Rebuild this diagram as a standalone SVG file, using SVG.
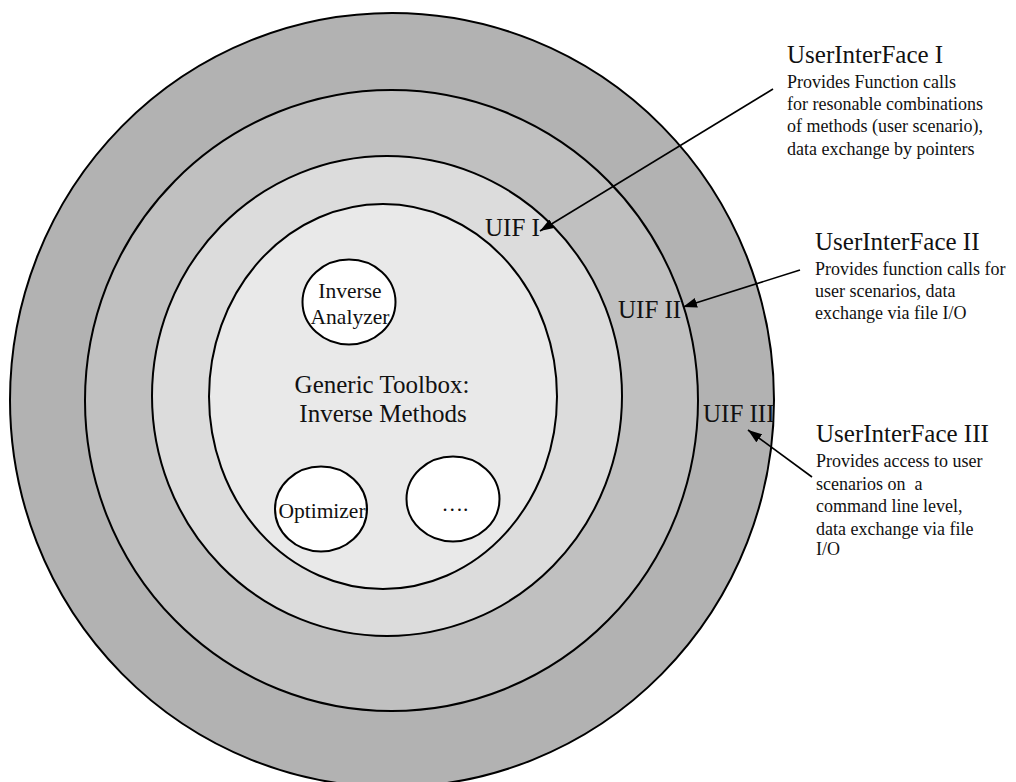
<svg xmlns="http://www.w3.org/2000/svg" width="1016" height="782" viewBox="0 0 1016 782">
<style>
  .ring { stroke: #000; stroke-width: 2; }
  .node { fill: #fff; stroke: #000; stroke-width: 2; }
  text { font-family: "Liberation Serif", "Times New Roman", serif; fill: #111; }
  .big { font-size: 25px; }
  .small { font-size: 21.5px; }
  .desc { font-size: 18px; }
  .mid { text-anchor: middle; }
  .arrow { stroke: #000; stroke-width: 1.6; fill: none; marker-end: url(#ah); }
</style>
<defs>
  <marker id="ah" viewBox="0 0 14 10" refX="14" refY="5" markerWidth="14" markerHeight="10" orient="auto" markerUnits="userSpaceOnUse">
    <path d="M0,0 L14,5 L0,10 z" fill="#000"/>
  </marker>
</defs>
<rect width="1016" height="782" fill="#fff"/>
<g id="layer-uif3">
  <ellipse class="ring" cx="392" cy="400" rx="382" ry="387" fill="#b2b2b2"/>
</g>
<g id="layer-uif2">
  <ellipse class="ring" cx="391.5" cy="400.5" rx="306.5" ry="310.5" fill="#c0c0c0"/>
</g>
<g id="layer-uif1">
  <ellipse class="ring" cx="387" cy="396" rx="235" ry="240" fill="#dcdcdc"/>
</g>
<g id="toolbox">
  <ellipse class="ring" cx="383" cy="396.5" rx="174" ry="192.5" fill="#e9e9e9"/>
  <text class="big mid" x="382" y="393">Generic Toolbox:</text>
  <text class="big mid" x="383" y="422">Inverse Methods</text>
</g>
<g id="inverse-analyzer">
  <ellipse class="node" cx="349" cy="302" rx="46.5" ry="42.5"/>
  <text class="small mid" x="350" y="298">Inverse</text>
  <text class="small mid" x="350" y="323.5">Analyzer</text>
</g>
<g id="optimizer">
  <ellipse class="node" cx="321" cy="509" rx="46" ry="42.5"/>
  <text class="small mid" x="322" y="518">Optimizer</text>
</g>
<g id="more">
  <ellipse class="node" cx="453" cy="499" rx="46.5" ry="42.5"/>
  <text class="small mid" x="455" y="511">….</text>
</g>
<g id="uif-labels">
  <text class="big" x="485" y="236">UIF I</text>
  <text class="big" x="618" y="318">UIF II</text>
  <text class="big" x="703" y="422">UIF III</text>
</g>
<g id="desc-uif1">
  <text class="big" x="787" y="63">UserInterFace I</text>
  <text class="desc" x="787" y="88">Provides Function calls</text>
  <text class="desc" x="787" y="110">for resonable combinations</text>
  <text class="desc" x="787" y="132">of methods (user scenario),</text>
  <text class="desc" x="787" y="155">data exchange by pointers</text>
</g>
<g id="desc-uif2">
  <text class="big" x="815" y="250">UserInterFace II</text>
  <text class="desc" x="815" y="275">Provides function calls for</text>
  <text class="desc" x="815" y="297">user scenarios, data</text>
  <text class="desc" x="815" y="319">exchange via file I/O</text>
</g>
<g id="desc-uif3">
  <text class="big" x="816" y="442">UserInterFace III</text>
  <text class="desc" x="816" y="467">Provides access to user</text>
  <text class="desc" x="816" y="490" xml:space="preserve">scenarios on  a</text>
  <text class="desc" x="816" y="512">command line level,</text>
  <text class="desc" x="816" y="535">data exchange via file</text>
  <text class="desc" x="816" y="555">I/O</text>
</g>
<g id="connectors">
  <line class="arrow" x1="773" y1="89" x2="540" y2="231"/>
  <line class="arrow" x1="800" y1="270" x2="683" y2="307"/>
  <line class="arrow" x1="812" y1="477" x2="748" y2="430"/>
</g>
</svg>
